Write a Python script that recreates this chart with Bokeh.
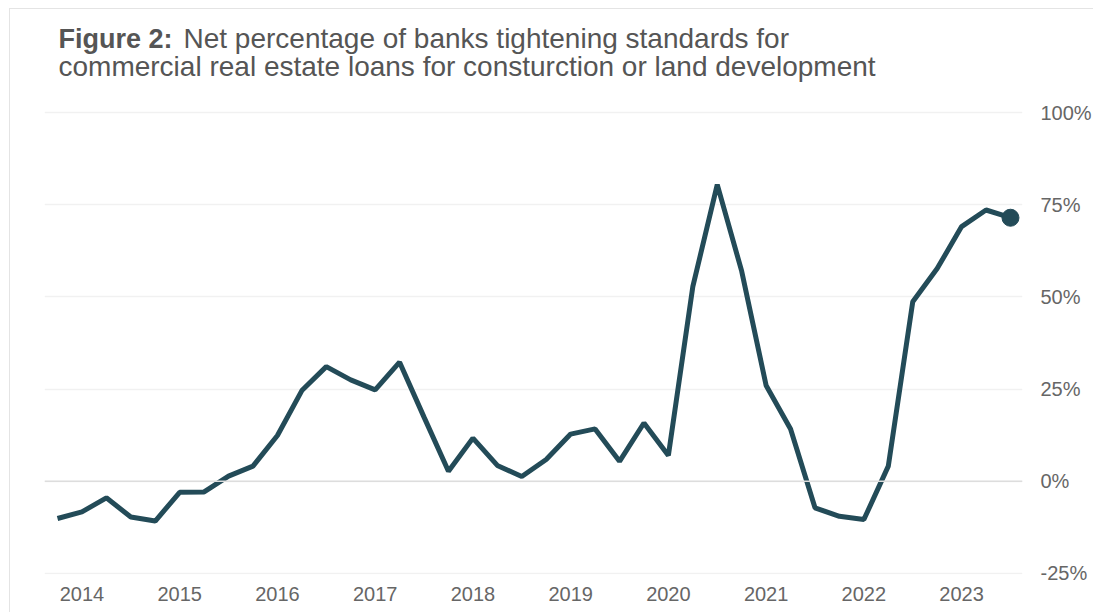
from bokeh.plotting import figure
from bokeh.models import FixedTicker, PrintfTickFormatter, Label, Span, Range1d
from bokeh.embed import file_html
from bokeh.resources import INLINE

# ---- data ----
quarters = [
    "2013Q4",
    "2014Q1", "2014Q2", "2014Q3", "2014Q4",
    "2015Q1", "2015Q2", "2015Q3", "2015Q4",
    "2016Q1", "2016Q2", "2016Q3", "2016Q4",
    "2017Q1", "2017Q2", "2017Q3", "2017Q4",
    "2018Q1", "2018Q2", "2018Q3", "2018Q4",
    "2019Q1", "2019Q2", "2019Q3", "2019Q4",
    "2020Q1", "2020Q2", "2020Q3", "2020Q4",
    "2021Q1", "2021Q2", "2021Q3", "2021Q4",
    "2022Q1", "2022Q2", "2022Q3", "2022Q4",
    "2023Q1", "2023Q2", "2023Q3",
]
net_tightening = [
    -10.1,
    -8.3, -4.5, -9.7, -10.8,
    -3.0, -2.9, 1.4, 4.1,
    12.4, 24.6, 31.1, 27.5,
    24.8, 32.3, 17.4, 2.7,
    11.7, 4.3, 1.3, 5.9,
    12.8, 14.2, 5.4, 15.8,
    7.0, 52.8, 80.5, 57.0,
    26.0, 14.2, -7.2, -9.5,
    -10.4, 4.1, 48.7, 57.7,
    69.1, 73.6, 71.5,
]
year_ticks = [2014, 2015, 2016, 2017, 2018, 2019, 2020, 2021, 2022, 2023]
year_labels = ["2014", "2015", "2016", "2017", "2018", "2019", "2020", "2021", "2022", "2023"]
pct_ticks = [-25, 0, 25, 50, 75, 100]

title_bold = "Figure 2:"
title_line1 = "Net percentage of banks tightening standards for"
title_line2 = "commercial real estate loans for consturction or land development"

# quarter -> decimal year (Q1 sits on the year tick)
xq = [int(q[:4]) + (int(q[5]) - 1) / 4 for q in quarters]

LINE = "#234b58"
TEXT = "#666666"
TITLE = "#555555"
FONT = "Liberation Sans"

# the frame runs up to the top of the canvas so the title labels sit inside it
p = figure(
    width=1084, height=604,
    x_range=Range1d(2013.617, 2023.623),
    y_range=Range1d(-25.3, 128.0),
    y_axis_location="right",
    output_backend="svg", toolbar_location=None,
    min_border_left=34, min_border_right=71,
    min_border_top=0, min_border_bottom=39,
    background_fill_color="white", border_fill_color="white",
    outline_line_color=None,
)
p.styles = {"margin-left": "9px", "margin-top": "8px",
            "border-top": "1px solid #e4e4e4", "border-left": "1px solid #e4e4e4"}

# axes
p.xaxis.ticker = FixedTicker(ticks=year_ticks)
p.xaxis.major_label_overrides = {t: l for t, l in zip(year_ticks, year_labels)}
p.yaxis.ticker = FixedTicker(ticks=pct_ticks)
p.yaxis.formatter = PrintfTickFormatter(format="%d%%")
for ax in (p.xaxis, p.yaxis):
    ax.axis_line_color = None
    ax.major_tick_line_color = None
    ax.minor_tick_line_color = None
    ax.major_tick_out = 0
    ax.major_tick_in = 0
    ax.major_label_text_font = FONT
    ax.major_label_text_font_size = "20px"
    ax.major_label_text_color = TEXT
p.xaxis.major_label_standoff = 12
p.yaxis.major_label_standoff = 18

# grid
p.xgrid.grid_line_color = None
p.ygrid.ticker = FixedTicker(ticks=pct_ticks)
p.ygrid.grid_line_color = "#f1f1f1"
p.ygrid.grid_line_width = 1.5
p.add_layout(Span(location=0, dimension="width", line_color="#dddddd", line_width=1.5))

# series
p.line(xq, net_tightening, line_color=LINE, line_width=5)
p.scatter(xq[-1:], net_tightening[-1:], size=17, fill_color=LINE, line_color=LINE)

# title (screen units are measured from the frame's bottom-left corner)
p.add_layout(Label(x=14, y=536, x_units="screen", y_units="screen", text=title_bold,
                   text_font=FONT, text_font_size="27px", text_font_style="bold",
                   text_color=TITLE, text_baseline="alphabetic"))
p.add_layout(Label(x=139, y=536, x_units="screen", y_units="screen", text=title_line1,
                   text_font=FONT, text_font_size="28px",
                   text_color=TITLE, text_baseline="alphabetic"))
p.add_layout(Label(x=14, y=508, x_units="screen", y_units="screen", text=title_line2,
                   text_font=FONT, text_font_size="28px",
                   text_color=TITLE, text_baseline="alphabetic"))

open("out.html", "w").write(file_html(p, INLINE))
